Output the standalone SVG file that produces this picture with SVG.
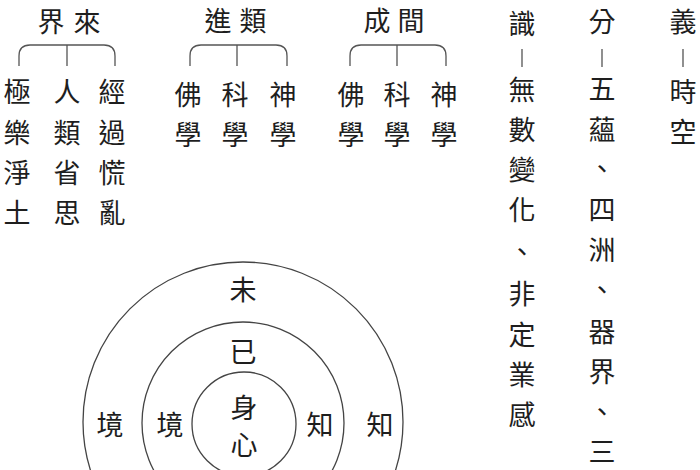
<svg xmlns="http://www.w3.org/2000/svg" width="700" height="470" viewBox="0 0 700 470">
<style>
text{font-family:"Noto Sans CJK TC","Noto Sans CJK SC",sans-serif;font-size:27px;fill:#1e1e1e;text-anchor:middle;dominant-baseline:central}
.ln{fill:none;stroke:#555;stroke-width:1.3}
.cir{fill:none;stroke:#444;stroke-width:1.3}
</style>
<rect width="700" height="470" fill="#fff"/>
<g id="connectors">
<path class="ln" d="M19,66 V56 Q19,45 30,45 H104 Q115,45 115,56 V66 M67,45 V66"/>
<path class="ln" d="M190,66 V56 Q190,45 201,45 H276 Q287,45 287,56 V66 M237,45 V66"/>
<path class="ln" d="M350,66 V56 Q350,45 361,45 H435 Q446,45 446,56 V66 M397,45 V66"/>
<path class="ln" d="M522,49 V67 M602,49 V67 M683,49 V67"/>
</g>
<g id="g1">
<text x="51" y="20">界</text><text x="87" y="20">來</text>
<text x="17" y="90">極</text><text x="17" y="131">樂</text><text x="17" y="171">淨</text><text x="17" y="211">土</text>
<text x="67" y="90">人</text><text x="67" y="131">類</text><text x="67" y="171">省</text><text x="67" y="211">思</text>
<text x="112" y="90">經</text><text x="112" y="131">過</text><text x="112" y="171">慌</text><text x="112" y="211">亂</text>
</g>
<g id="g2">
<text x="218" y="19">進</text><text x="253" y="19">類</text>
<text x="188" y="93">佛</text><text x="188" y="133">學</text>
<text x="235" y="93">科</text><text x="235" y="133">學</text>
<text x="283" y="93">神</text><text x="283" y="133">學</text>
</g>
<g id="g3">
<text x="377" y="19">成</text><text x="411" y="19">間</text>
<text x="351" y="93">佛</text><text x="351" y="133">學</text>
<text x="397" y="93">科</text><text x="397" y="133">學</text>
<text x="444" y="93">神</text><text x="444" y="133">學</text>
</g>
<g id="col-shi">
<text x="522" y="22">識</text>
<text x="522" y="88">無</text><text x="522" y="128">數</text><text x="522" y="168">變</text><text x="522" y="208">化</text>
<text x="522" y="250">、</text><text x="522" y="292">非</text><text x="522" y="333">定</text><text x="522" y="373">業</text><text x="522" y="413">感</text>
</g>
<g id="col-fen">
<text x="602" y="20">分</text>
<text x="602" y="87">五</text><text x="602" y="128">蘊</text><text x="602" y="167">、</text><text x="602" y="208">四</text>
<text x="602" y="248">洲</text><text x="602" y="288">、</text><text x="602" y="330">器</text><text x="602" y="370">界</text><text x="602" y="410">、</text><text x="602" y="450">三</text>
</g>
<g id="col-yi">
<text x="683" y="20">義</text>
<text x="683" y="90">時</text><text x="683" y="130">空</text>
</g>
<g id="circles">
<circle class="cir" cx="243" cy="422" r="160"/>
<circle class="cir" cx="243" cy="423" r="101"/>
<circle class="cir" cx="244" cy="424" r="52"/>
<text x="243" y="288">未</text>
<text x="243" y="350">已</text>
<text x="244" y="406">身</text>
<text x="244" y="443">心</text>
<text x="110" y="423">境</text>
<text x="170" y="423">境</text>
<text x="320" y="423">知</text>
<text x="380" y="423">知</text>
</g>
</svg>
